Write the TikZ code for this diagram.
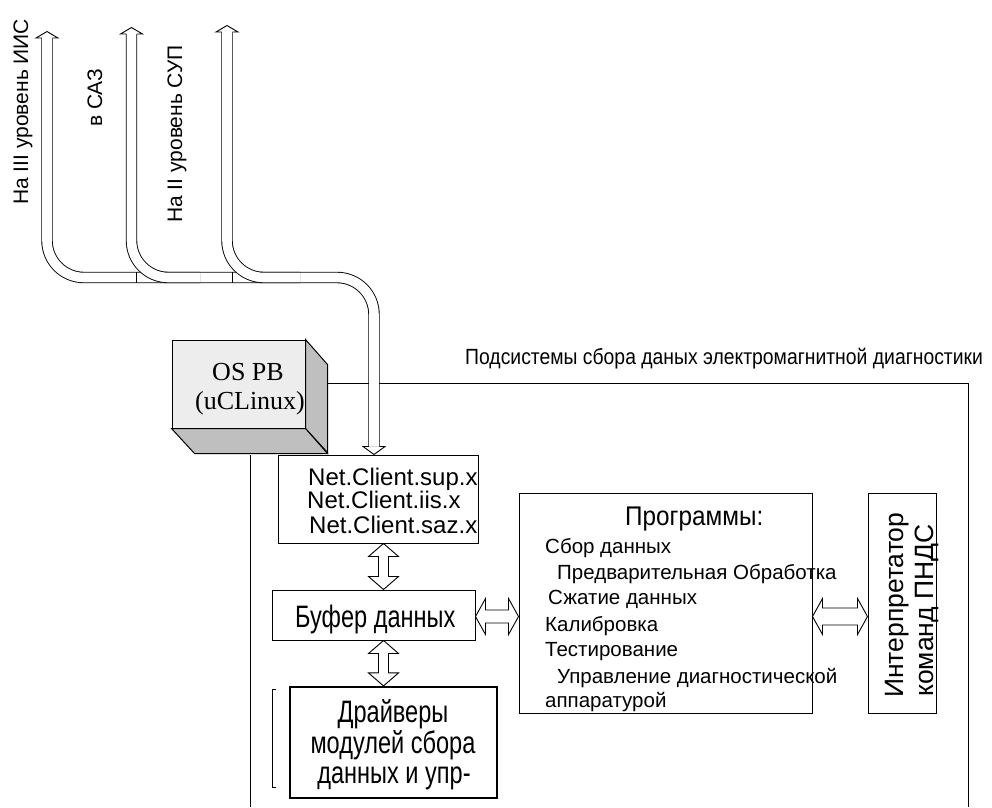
\documentclass[tikz,border=0pt]{standalone}
\usepackage{fontspec}
\usepackage{graphicx}
\setmainfont{Liberation Sans}
\newfontfamily\serifface{Liberation Serif}
\usetikzlibrary{calc}

\newcommand\setfs[1]{\fontsize{#1}{#1}\selectfont}
% hollow two-headed arrow, vertical: start (top), end (bottom), half shaft, head length, half wing
\newcommand\hollowV[5]{%
  \path[hollow] let \p1=(#1), \p2=(#2) in
    (\p1) -- (\x1+#5,\y1-#4) -- (\x1+#3,\y1-#4) -- (\x1+#3,\y2+#4) -- (\x1+#5,\y2+#4)
    -- (\x1,\y2) -- (\x1-#5,\y2+#4) -- (\x1-#3,\y2+#4) -- (\x1-#3,\y1-#4) -- (\x1-#5,\y1-#4) -- cycle;}
% hollow two-headed arrow, horizontal: start (left), end (right), half shaft, head length, half wing
\newcommand\hollowH[5]{%
  \path[hollow] let \p1=(#1), \p2=(#2) in
    (\p1) -- (\x1+#4,\y1+#5) -- (\x1+#4,\y1+#3) -- (\x2-#4,\y1+#3) -- (\x2-#4,\y1+#5)
    -- (\x2,\y1) -- (\x2-#4,\y1-#5) -- (\x2-#4,\y1-#3) -- (\x1+#4,\y1-#3) -- (\x1+#4,\y1-#5) -- cycle;}

\begin{document}
\begin{tikzpicture}[x=1pt,y=-1pt,
  blk/.style={draw, line width=1pt, inner sep=0pt, fill=white},
  hollow/.style={draw, fill=white, line width=0.9pt, line join=miter},
  pipe/.style={line width=0.9pt, double=white, double distance=9.6pt, rounded corners=37pt},
  phead/.style={draw, fill=white, line width=0.9pt, line join=miter},
  lbl/.style={inner sep=0pt, rotate=90, anchor=base west, font=\setfs{21}},
  txt/.style={inner sep=0pt, anchor=base west},
  item/.style={inner sep=0pt, anchor=base west, font=\setfs{20.5}},
  big/.style={inner sep=0pt, anchor=base, font=\setfs{31}},
]
\useasboundingbox (0,0) rectangle (992,807);

% subsystem frame
\coordinate (fa) at (327,383);
\coordinate (fb) at (968,383);
\coordinate (fc) at (968,807);
\coordinate (fd) at (250,455);
\coordinate (fe) at (250,807);
\draw[line width=1pt] (fa) -- (fb) -- (fc);
\draw[line width=1pt] (fd) -- (fe);
\node[txt, font=\setfs{22}] (title) at (465,364)
  {\scalebox{0.88}[1]{Подсистемы сбора даных электромагнитной диагностики}};

% OS block drawn as a box
\node[blk, fill=black!7, minimum width=133pt, minimum height=88pt] (os) at (238.5,384) {};
\draw[line width=1pt, fill=black!25, line join=miter]
  (os.north east) -- ++(22,25) -- ++(0,88) -- (os.south east) -- cycle;
\draw[line width=1pt, fill=black!25, line join=miter]
  (os.south west) -- (os.south east) -- ++(22,25) -- ++(-133,0) -- cycle;
\node[inner sep=0pt, anchor=base, font=\serifface\setfs{26}] (os1) at (248,380) {OS PB};
\node[inner sep=0pt, anchor=base, font=\serifface\setfs{26}] (os2) at (250,409) {(uCLinux)};

% blocks
\node[blk, minimum width=200pt, minimum height=88pt] (nc) at (378,499) {};
\node[blk, minimum width=203pt, minimum height=50pt] (buf) at (373.5,615) {};
\node[blk, line width=2.2pt, minimum width=207pt, minimum height=111pt] (drv) at (393.5,742.5) {};
\node[blk, minimum width=293pt, minimum height=220pt] (prog) at (665.5,603) {};
\node[blk, minimum width=68pt, minimum height=220pt] (intp) at (902,603) {};

\node[txt, font=\setfs{24}] (nc1) at (308,485) {Net.Client.sup.x};
\node[txt, font=\setfs{24}] (nc2) at (307,508) {Net.Client.iis.x};
\node[txt, font=\setfs{24}] (nc3) at (309,533) {Net.Client.saz.x};

\node[txt, font=\setfs{31}] (buft) at (295,627) {\scalebox{0.76}[1]{Буфер данных}};

\node[big] (d1) at (393,722) {\scalebox{0.76}[1]{Драйверы}};
\node[big] (d2) at (393,753) {\scalebox{0.76}[1]{модулей сбора}};
\node[big] (d3) at (394,783) {\scalebox{0.76}[1]{данных и упр-}};
\draw[line width=1pt] (276,689) -- (272,689) -- (272,787) -- (276,787);

\node[txt, font=\setfs{27}] (p0) at (625,525) {\scalebox{0.9}[1]{Программы:}};
\node[item] (p1) at (545,553) {Сбор данных};
\node[item] (p2) at (557,579) {Предварительная Обработка};
\node[item] (p3) at (548,604) {Сжатие данных};
\node[item] (p4) at (545,631) {Калибровка};
\node[item] (p5) at (545,656) {Тестирование};
\node[item] (p6) at (557,683) {Управление диагностической};
\node[item] (p7) at (545,707) {аппаратурой};

\node[inner sep=0pt, rotate=90, anchor=base west, font=\setfs{26.5}] (i1) at (903,698) {Интерпретатор};
\node[inner sep=0pt, rotate=90, anchor=base west, font=\setfs{26.5}] (i2) at (933,697) {команд ПНДС};

% two-headed links
\coordinate (busx) at (383.5,0);
\coordinate (hrow) at (0,616.5);
\hollowV{nc.south -| busx}{buf.north -| busx}{5pt}{13pt}{15pt}
\hollowV{buf.south -| busx}{drv.north -| busx}{5pt}{13pt}{15pt}
\hollowH{buf.east |- hrow}{prog.west |- hrow}{6.5pt}{10pt}{18pt}
\hollowH{prog.east |- hrow}{intp.west |- hrow}{8.5pt}{10pt}{18pt}

% network pipes
\coordinate (t1) at (47,38);
\coordinate (t2) at (131.5,34);
\coordinate (t3) at (227,32);
\coordinate (bend) at (374,277.5);
\coordinate (j2) at (200,277.5);
\coordinate (j3) at (300,277.5);
\coordinate (k2) at (136.75,277.5);
\coordinate (k3) at (232.25,277.5);
\coordinate (pb) at ($(nc.north -| bend)+(0,-8)$);

\draw[pipe] (t1) |- (bend) -- (pb);
\draw[line width=0.9pt] ([yshift=-5.25pt]k2) -- ([yshift=5.25pt]k2);
\draw[pipe] (t2) |- (j2);
\draw[line width=0.9pt] ([yshift=-5.25pt]k3) -- ([yshift=5.25pt]k3);
\draw[pipe] (t3) |- (j3);

\foreach \t in {t1,t2,t3}
  \path[phead] (\t) ++(-5.25,0) -- ++(-5.75,0) -- ++(11,-6.5) -- ++(11,6.5) -- ++(-5.75,0);
\path[phead] (pb) ++(-5.25,0) -- ++(-5.75,0) -- ++(11,8) -- ++(11,-8) -- ++(-5.75,0);

\node[lbl] (lab1) at (28,205) {На III уровень ИИС};
\node[lbl] (lab2) at (102,127) {в САЗ};
\node[lbl] (lab3) at (182,223) {На II уровень СУП};
\end{tikzpicture}
\end{document}
